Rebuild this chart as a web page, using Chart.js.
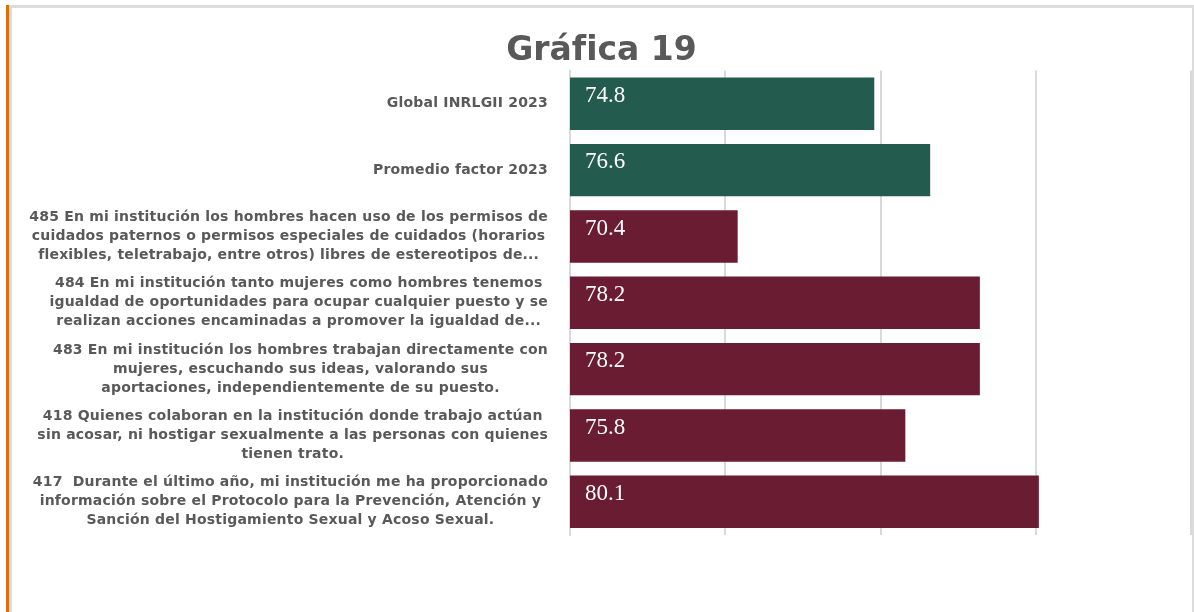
<!DOCTYPE html>
<html lang="es">
<head>
<meta charset="utf-8">
<title>Gráfica 19</title>
<script src="https://cdn.jsdelivr.net/npm/chart.js@4.4.1/dist/chart.umd.min.js"></script>
<style>
  html, body { margin: 0; padding: 0; background: #fff; }
  body { width: 1194px; height: 612px; position: relative; overflow: hidden; }
  .accent { position: absolute; left: 6px; top: 5px; width: 3px; height: 607px; background: #e36c0a; }
  .frame { position: absolute; left: 9px; top: 5px; width: 1180px; height: 620px;
           border: 3px solid #dcdcdc; box-sizing: content-box; }
  #wrap { position: absolute; left: 0; top: 0; width: 1194px; height: 612px; }
</style>
</head>
<body>
<div class="accent"></div>
<div class="frame"></div>
<div id="wrap"><canvas id="grafica"></canvas></div>
<script>
const titulo = "Gráfica 19";

const categorias = [
  ["Global INRLGII 2023"],
  ["Promedio factor 2023"],
  ["485 En mi institución los hombres hacen uso de los permisos de",
   "cuidados paternos o permisos especiales de cuidados (horarios",
   "flexibles, teletrabajo, entre otros) libres de estereotipos de..."],
  ["484 En mi institución tanto mujeres como hombres tenemos",
   "igualdad de oportunidades para ocupar cualquier puesto y se",
   "realizan acciones encaminadas a promover la igualdad de..."],
  ["483 En mi institución los hombres trabajan directamente con",
   "mujeres, escuchando sus ideas, valorando sus",
   "aportaciones, independientemente de su puesto."],
  ["418 Quienes colaboran en la institución donde trabajo actúan",
   "sin acosar, ni hostigar sexualmente a las personas con quienes",
   "tienen trato."],
  ["417  Durante el último año, mi institución me ha proporcionado",
   "información sobre el Protocolo para la Prevención, Atención y",
   "Sanción del Hostigamiento Sexual y Acoso Sexual."]
];

const valores = [74.8, 76.6, 70.4, 78.2, 78.2, 75.8, 80.1];
const tipo = ["global", "global", "reactivo", "reactivo", "reactivo", "reactivo", "reactivo"];

const VERDE = "#235b4e";
const GUINDA = "#691c32";
const GRIS_TXT = "#595959";
const ANCHO_EJE = 558;

// etiquetas del eje: bloque alineado a la derecha, líneas centradas entre sí
const etiquetasEje = {
  id: "etiquetasEje",
  afterDraw(chart) {
    const { ctx, scales: { y }, chartArea } = chart;
    const derecha = chartArea.left - 22;
    const alto = 19;
    ctx.save();
    ctx.font = "bold 14px 'DejaVu Sans', sans-serif";
    ctx.letterSpacing = "0.2px";
    ctx.fillStyle = GRIS_TXT;
    ctx.textAlign = "center";
    ctx.textBaseline = "middle";
    categorias.forEach((lineas, i) => {
      const ancho = Math.max(...lineas.map((l) => ctx.measureText(l).width));
      const cx = derecha - ancho / 2;
      const cy = y.getPixelForValue(i);
      const y0 = cy - ((lineas.length - 1) * alto) / 2;
      lineas.forEach((l, k) => ctx.fillText(l, cx, y0 + k * alto));
    });
    ctx.restore();
  }
};

// valor dentro de la barra, junto a la base
const valoresBarra = {
  id: "valoresBarra",
  afterDraw(chart) {
    const { ctx, scales: { x, y } } = chart;
    const x0 = x.getPixelForValue(x.min);
    ctx.save();
    ctx.font = "23px 'Liberation Serif', 'DejaVu Serif', serif";
    ctx.fillStyle = "#ffffff";
    ctx.textAlign = "left";
    ctx.textBaseline = "middle";
    valores.forEach((v, i) => {
      ctx.fillText(v.toFixed(1), x0 + 15, y.getPixelForValue(i) - 8);
    });
    ctx.restore();
  }
};

new Chart(document.getElementById("grafica"), {
  type: "bar",
  data: {
    labels: categorias.map((c) => c.join(" ")),
    datasets: [{
      data: valores,
      backgroundColor: tipo.map((t) => (t === "global" ? VERDE : GUINDA)),
      borderWidth: 0,
      barPercentage: 0.79,
      categoryPercentage: 1
    }]
  },
  options: {
    indexAxis: "y",
    responsive: true,
    maintainAspectRatio: false,
    animation: false,
    layout: { padding: { left: 12, right: 3, top: 0, bottom: 77 } },
    plugins: {
      legend: { display: false },
      tooltip: { enabled: false },
      title: {
        display: true,
        text: titulo,
        color: GRIS_TXT,
        font: { family: "'DejaVu Sans', sans-serif", size: 33, weight: "bold" },
        padding: { top: 32, bottom: -1 }
      }
    },
    scales: {
      x: {
        min: 65,
        max: 85,
        ticks: { stepSize: 5, display: false },
        grid: { color: "#d9d9d9", lineWidth: 2, drawTicks: false },
        border: { display: false }
      },
      y: {
        afterFit(scale) { scale.width = ANCHO_EJE; },
        ticks: { display: false },
        grid: { display: false },
        border: { color: "#d9d9d9", width: 2 }
      }
    }
  },
  plugins: [etiquetasEje, valoresBarra]
});
</script>
</body>
</html>
